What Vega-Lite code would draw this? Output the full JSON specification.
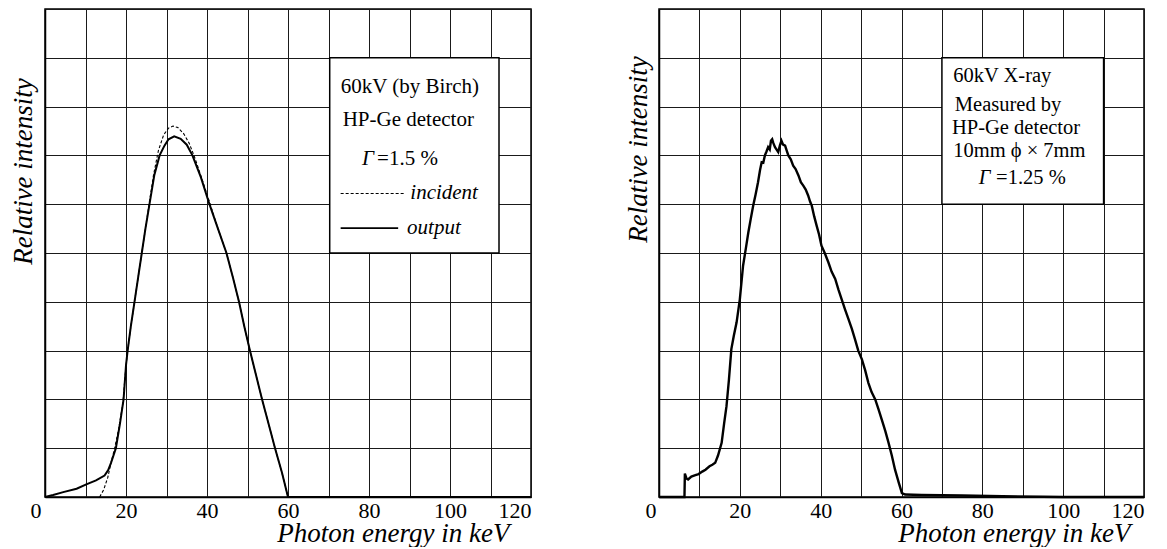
{
  "$schema": "https://vega.github.io/schema/vega-lite/v6.json",
  "background": "white",
  "padding": {"left": 8, "top": 8, "right": 0, "bottom": 0},
  "spacing": 87,
  "config": {
    "font": "Liberation Serif",
    "view": {"stroke": "black", "strokeWidth": 1.5},
    "axis": {
      "domainColor": "black",
      "domainWidth": 1.5,
      "gridColor": "#1a1a1a",
      "gridWidth": 1,
      "gridOpacity": 1,
      "ticks": false
    }
  },
  "datasets": {
    "output": [
      {"x": 0, "y": 0}, {"x": 2, "y": 0.04}, {"x": 4.5, "y": 0.1}, {"x": 7.8, "y": 0.17}, {"x": 10.2, "y": 0.26},
      {"x": 12.6, "y": 0.34}, {"x": 14.7, "y": 0.44}, {"x": 15.6, "y": 0.55}, {"x": 16.3, "y": 0.7}, {"x": 17.5, "y": 1.0},
      {"x": 18.5, "y": 1.5}, {"x": 19.4, "y": 2.0}, {"x": 20.0, "y": 2.7}, {"x": 20.4, "y": 3.0}, {"x": 21.2, "y": 3.5},
      {"x": 22.1, "y": 4.0}, {"x": 23.0, "y": 4.5}, {"x": 23.9, "y": 5.0}, {"x": 24.8, "y": 5.5}, {"x": 25.8, "y": 6.0},
      {"x": 27.0, "y": 6.6}, {"x": 28.3, "y": 7.0}, {"x": 29.5, "y": 7.2}, {"x": 30.5, "y": 7.33}, {"x": 31.9, "y": 7.39},
      {"x": 33.5, "y": 7.34}, {"x": 35.0, "y": 7.22}, {"x": 36.4, "y": 7.0}, {"x": 38.5, "y": 6.55}, {"x": 40.6, "y": 6.0},
      {"x": 42.7, "y": 5.5}, {"x": 44.8, "y": 5.0}, {"x": 46.4, "y": 4.5}, {"x": 47.9, "y": 4.0}, {"x": 49.2, "y": 3.5},
      {"x": 50.6, "y": 3.0}, {"x": 52.1, "y": 2.5}, {"x": 53.6, "y": 2.0}, {"x": 55.2, "y": 1.5}, {"x": 56.8, "y": 1.0},
      {"x": 58.5, "y": 0.5}, {"x": 60.0, "y": 0}, {"x": 120, "y": 0}
    ],
    "incident": [
      {"x": 13.5, "y": 0}, {"x": 14.5, "y": 0.15}, {"x": 15.5, "y": 0.4}, {"x": 16.3, "y": 0.7}, {"x": 17.2, "y": 1.0},
      {"x": 18.2, "y": 1.4}, {"x": 19.2, "y": 1.9}, {"x": 19.8, "y": 2.5}, {"x": 20.4, "y": 3.0}, {"x": 21.2, "y": 3.5},
      {"x": 22.1, "y": 4.0}, {"x": 23.0, "y": 4.5}, {"x": 23.9, "y": 5.0}, {"x": 24.8, "y": 5.5}, {"x": 25.7, "y": 6.0},
      {"x": 26.8, "y": 6.6}, {"x": 28.0, "y": 7.1}, {"x": 29.3, "y": 7.42}, {"x": 30.5, "y": 7.56}, {"x": 31.6, "y": 7.6},
      {"x": 32.8, "y": 7.57}, {"x": 34.2, "y": 7.45}, {"x": 35.6, "y": 7.25}, {"x": 37.0, "y": 6.95}, {"x": 38.5, "y": 6.58},
      {"x": 40.6, "y": 6.05}, {"x": 42.7, "y": 5.5}, {"x": 44.8, "y": 5.0}, {"x": 46.4, "y": 4.5}, {"x": 47.9, "y": 4.0},
      {"x": 49.2, "y": 3.5}, {"x": 50.6, "y": 3.0}, {"x": 52.1, "y": 2.5}, {"x": 53.6, "y": 2.0}, {"x": 55.2, "y": 1.5},
      {"x": 56.8, "y": 1.0}, {"x": 58.5, "y": 0.5}, {"x": 60.0, "y": 0}
    ],
    "measured": [
      {"x": 0, "y": 0}, {"x": 6.3, "y": 0}, {"x": 6.4, "y": 0.48}, {"x": 6.8, "y": 0.38}, {"x": 7.2, "y": 0.36},
      {"x": 8.0, "y": 0.42}, {"x": 9.0, "y": 0.45}, {"x": 9.8, "y": 0.47}, {"x": 10.7, "y": 0.52}, {"x": 11.5, "y": 0.56},
      {"x": 12.5, "y": 0.63}, {"x": 13.2, "y": 0.66}, {"x": 13.9, "y": 0.7}, {"x": 14.6, "y": 0.85}, {"x": 15.5, "y": 1.11},
      {"x": 16.1, "y": 1.5}, {"x": 16.7, "y": 1.86}, {"x": 17.3, "y": 2.4}, {"x": 17.9, "y": 3.03}, {"x": 18.5, "y": 3.3},
      {"x": 19.2, "y": 3.58}, {"x": 20.0, "y": 4.05}, {"x": 20.8, "y": 4.74}, {"x": 21.5, "y": 5.1}, {"x": 22.1, "y": 5.42},
      {"x": 22.7, "y": 5.7}, {"x": 23.3, "y": 5.97}, {"x": 23.9, "y": 6.2}, {"x": 24.5, "y": 6.45}, {"x": 25.0, "y": 6.7},
      {"x": 25.4, "y": 6.86}, {"x": 25.8, "y": 6.85}, {"x": 26.2, "y": 7.0}, {"x": 26.6, "y": 7.08}, {"x": 27.0, "y": 7.17},
      {"x": 27.4, "y": 7.12}, {"x": 27.7, "y": 7.3}, {"x": 28.0, "y": 7.33}, {"x": 28.3, "y": 7.25}, {"x": 28.7, "y": 7.17},
      {"x": 29.1, "y": 7.12}, {"x": 29.5, "y": 7.07}, {"x": 29.9, "y": 7.2}, {"x": 30.3, "y": 7.3}, {"x": 30.7, "y": 7.22},
      {"x": 31.2, "y": 7.2}, {"x": 31.6, "y": 7.1}, {"x": 32.0, "y": 7.0}, {"x": 32.6, "y": 6.92}, {"x": 33.2, "y": 6.79},
      {"x": 33.8, "y": 6.72}, {"x": 34.5, "y": 6.59}, {"x": 35.1, "y": 6.45}, {"x": 35.7, "y": 6.38}, {"x": 36.3, "y": 6.3},
      {"x": 36.9, "y": 6.18}, {"x": 37.4, "y": 6.05}, {"x": 37.8, "y": 5.97}, {"x": 38.4, "y": 5.75}, {"x": 39.0, "y": 5.56},
      {"x": 39.6, "y": 5.38}, {"x": 40.2, "y": 5.15}, {"x": 41.0, "y": 5.0}, {"x": 41.9, "y": 4.81}, {"x": 42.7, "y": 4.62},
      {"x": 43.6, "y": 4.47}, {"x": 44.4, "y": 4.25}, {"x": 45.2, "y": 4.05}, {"x": 46.0, "y": 3.85}, {"x": 46.9, "y": 3.64},
      {"x": 47.7, "y": 3.45}, {"x": 48.5, "y": 3.23}, {"x": 49.3, "y": 3.0}, {"x": 50.2, "y": 2.82}, {"x": 51.0, "y": 2.6},
      {"x": 51.8, "y": 2.34}, {"x": 52.6, "y": 2.15}, {"x": 53.5, "y": 2.0}, {"x": 54.3, "y": 1.8}, {"x": 55.1, "y": 1.59},
      {"x": 56.0, "y": 1.35}, {"x": 56.8, "y": 1.11}, {"x": 57.6, "y": 0.85}, {"x": 58.4, "y": 0.56}, {"x": 59.3, "y": 0.3},
      {"x": 60.1, "y": 0.08}, {"x": 60.9, "y": 0.05}, {"x": 65, "y": 0.04}, {"x": 75, "y": 0.03}, {"x": 85, "y": 0.015},
      {"x": 95, "y": 0.005}, {"x": 100, "y": 0}, {"x": 120, "y": 0}
    ],
    "boxL": [{"x": 70.3, "x2": 112.1, "y": 5.0, "y2": 9.0}],
    "boxR": [{"x": 70.0, "x2": 110.0, "y": 6.0, "y2": 9.0}],
    "keyL": [
      {"series": "incident", "x": 73.0, "x2": 88.9, "y": 6.22},
      {"series": "output", "x": 73.0, "x2": 87.2, "y": 5.51}
    ],
    "textL": [
      {"x": 73.0, "y": 8.4, "t": "60kV (by Birch)"},
      {"x": 73.5, "y": 7.72, "t": "HP-Ge detector"},
      {"x": 82.0, "y": 6.93, "t": "=1.5 %"}
    ],
    "textLi": [
      {"x": 78.3, "y": 6.93, "t": "Γ"},
      {"x": 90.2, "y": 6.22, "t": "incident"},
      {"x": 89.4, "y": 5.51, "t": "output"}
    ],
    "textR": [
      {"x": 72.8, "y": 8.62, "t": "60kV X-ray"},
      {"x": 73.2, "y": 8.04, "t": "Measured by"},
      {"x": 72.5, "y": 7.56, "t": "HP-Ge detector"},
      {"x": 72.8, "y": 7.1, "t": "10mm ϕ × 7mm"},
      {"x": 83.4, "y": 6.54, "t": "=1.25 %"}
    ],
    "textRi": [
      {"x": 79.1, "y": 6.54, "t": "Γ"}
    ]
  },
  "hconcat": [
    {
      "width": 486,
      "height": 488,
      "encoding": {
        "x": {
          "field": "x", "type": "quantitative",
          "scale": {"domain": [0, 120], "nice": false, "zero": false},
          "axis": {
            "title": "Photon energy in keV",
            "values": [0, 10, 20, 30, 40, 50, 60, 70, 80, 90, 100, 110, 120],
            "labelExpr": "datum.value % 20 == 0 ? datum.label : ''",
            "labelFont": "Liberation Serif", "labelFontSize": 22, "labelColor": "black",
            "labelPadding": 3,
            "labelOffset": {"condition": {"test": "datum.value == 0", "value": -15}, "value": 0},
            "titleFont": "Liberation Serif", "titleFontStyle": "italic", "titleFontWeight": "normal", "titleFontSize": 27, "titleColor": "black",
            "titleX": 464, "titleY": 44, "titleAlign": "right", "titleBaseline": "alphabetic"
          }
        },
        "y": {
          "field": "y", "type": "quantitative",
          "scale": {"domain": [0, 10], "nice": false, "zero": false},
          "axis": {
            "title": "Relative intensity",
            "values": [0, 1, 2, 3, 4, 5, 6, 7, 8, 9, 10],
            "labels": false,
            "titleFont": "Liberation Serif", "titleFontStyle": "italic", "titleFontWeight": "normal", "titleFontSize": 27, "titleColor": "black",
            "titleX": -22, "titleY": 162, "titleAngle": -90, "titleAlign": "center", "titleBaseline": "middle"
          }
        }
      },
      "layer": [
        {"data": {"name": "incident"}, "mark": {"type": "line", "color": "black", "strokeWidth": 1.1, "strokeDash": [3, 2]}},
        {"data": {"name": "output"}, "mark": {"type": "line", "color": "black", "strokeWidth": 2}},
        {"data": {"name": "boxL"}, "mark": {"type": "rect", "fill": "white", "stroke": "black", "strokeWidth": 1.5}, "encoding": {"x2": {"field": "x2"}, "y2": {"field": "y2"}}},
        {"data": {"name": "keyL"}, "mark": {"type": "rule", "color": "black"}, "encoding": {"x2": {"field": "x2"},
          "strokeDash": {"field": "series", "type": "nominal", "scale": {"domain": ["incident", "output"], "range": [[3, 2], [1, 0]]}, "legend": null},
          "strokeWidth": {"field": "series", "type": "nominal", "scale": {"domain": ["incident", "output"], "range": [1.1, 1.6]}, "legend": null}}},
        {"data": {"name": "textL"}, "mark": {"type": "text", "align": "left", "baseline": "middle", "fontSize": 21, "font": "Liberation Serif", "color": "black"}, "encoding": {"text": {"field": "t"}}},
        {"data": {"name": "textLi"}, "mark": {"type": "text", "align": "left", "baseline": "middle", "fontSize": 21, "font": "Liberation Serif", "fontStyle": "italic", "color": "black"}, "encoding": {"text": {"field": "t"}}}
      ]
    },
    {
      "width": 485,
      "height": 488,
      "encoding": {
        "x": {
          "field": "x", "type": "quantitative",
          "scale": {"domain": [0, 120], "nice": false, "zero": false},
          "axis": {
            "title": "Photon energy in keV",
            "values": [0, 10, 20, 30, 40, 50, 60, 70, 80, 90, 100, 110, 120],
            "labelExpr": "datum.value % 20 == 0 ? datum.label : ''",
            "labelFont": "Liberation Serif", "labelFontSize": 22, "labelColor": "black",
            "labelPadding": 3,
            "labelOffset": {"condition": {"test": "datum.value == 0", "value": -14}, "value": 0},
            "titleFont": "Liberation Serif", "titleFontStyle": "italic", "titleFontWeight": "normal", "titleFontSize": 27, "titleColor": "black",
            "titleX": 471, "titleY": 44, "titleAlign": "right", "titleBaseline": "alphabetic"
          }
        },
        "y": {
          "field": "y", "type": "quantitative",
          "scale": {"domain": [0, 10], "nice": false, "zero": false},
          "axis": {
            "title": "Relative intensity",
            "values": [0, 1, 2, 3, 4, 5, 6, 7, 8, 9, 10],
            "labels": false,
            "titleFont": "Liberation Serif", "titleFontStyle": "italic", "titleFontWeight": "normal", "titleFontSize": 27, "titleColor": "black",
            "titleX": -21, "titleY": 140, "titleAngle": -90, "titleAlign": "center", "titleBaseline": "middle"
          }
        }
      },
      "layer": [
        {"data": {"name": "measured"}, "mark": {"type": "line", "color": "black", "strokeWidth": 2.4}},
        {"data": {"name": "boxR"}, "mark": {"type": "rect", "fill": "white", "stroke": "black", "strokeWidth": 1.5}, "encoding": {"x2": {"field": "x2"}, "y2": {"field": "y2"}}},
        {"data": {"name": "textR"}, "mark": {"type": "text", "align": "left", "baseline": "middle", "fontSize": 20.5, "font": "Liberation Serif", "color": "black"}, "encoding": {"text": {"field": "t"}}},
        {"data": {"name": "textRi"}, "mark": {"type": "text", "align": "left", "baseline": "middle", "fontSize": 20.5, "font": "Liberation Serif", "fontStyle": "italic", "color": "black"}, "encoding": {"text": {"field": "t"}}}
      ]
    }
  ]
}
